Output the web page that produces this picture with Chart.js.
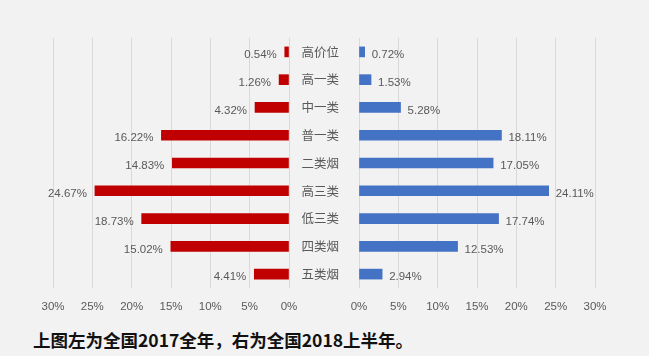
<!DOCTYPE html>
<html>
<head>
<meta charset="utf-8">
<script src="https://cdn.jsdelivr.net/npm/chart.js@4/dist/chart.umd.min.js"></script>
<style>
  html, body { margin:0; padding:0; background:#f2f2f2; }
  #wrap { position:relative; width:649px; height:356px; background:#f2f2f2; overflow:hidden; }
  #leftBox { position:absolute; left:0; top:0; width:300px; height:320px; }
  #rightBox { position:absolute; left:300px; top:0; width:349px; height:320px; }
  #caption { position:absolute; left:33px; top:329px; font-family:"Noto Sans CJK SC", sans-serif; font-size:17.5px; font-weight:700; color:#111; white-space:nowrap; line-height:22px; }
</style>
</head>
<body>
<div id="wrap">
  <div id="leftBox"><canvas id="left" width="300" height="320"></canvas></div>
  <div id="rightBox"><canvas id="right" width="349" height="320"></canvas></div>
  <div id="caption">上图左为全国2017全年，右为全国2018上半年。</div>
</div>
<script>
const categories = ["高价位","高一类","中一类","普一类","二类烟","高三类","低三类","四类烟","五类烟"];
const values2017 = [0.54, 1.26, 4.32, 16.22, 14.83, 24.67, 18.73, 15.02, 4.41];
const values2018H1 = [0.72, 1.53, 5.28, 18.11, 17.05, 24.11, 17.74, 12.53, 2.94];
const axisMax = 30;
const axisStep = 5;

const labelColor = '#595959';
const gridColor = '#d9d9d9';

const valueLabels = {
  id: 'valueLabels',
  afterDatasetsDraw(chart, args, opts) {
    const ctx = chart.ctx;
    const meta = chart.getDatasetMeta(0);
    const data = chart.data.datasets[0].data;
    ctx.save();
    ctx.font = '11.5px "Liberation Sans", Arial, sans-serif';
    ctx.fillStyle = labelColor;
    ctx.textBaseline = 'middle';
    meta.data.forEach((bar, i) => {
      const txt = data[i].toFixed(2) + '%';
      if (opts.side === 'left') {
        ctx.textAlign = 'right';
        ctx.fillText(txt, bar.x - 8, bar.y + 3);
      } else {
        ctx.textAlign = 'left';
        ctx.fillText(txt, bar.x + 7, bar.y + 3);
      }
    });
    ctx.restore();
  }
};

function xScale(reverse) {
  return {
    type: 'linear',
    min: 0, max: axisMax,
    reverse: reverse,
    ticks: {
      stepSize: axisStep,
      color: labelColor,
      padding: 12,
      font: { size: 11.5, family: '"Liberation Sans", Arial, sans-serif' },
      callback: v => v + '%'
    },
    grid: { color: gridColor, lineWidth: 1, drawTicks: false },
    border: { display: false },
    afterFit(s) { s.height = 30; s.paddingLeft = 0; s.paddingRight = 0; }
  };
}

new Chart(document.getElementById('left'), {
  type: 'bar',
  data: {
    labels: categories,
    datasets: [{ data: values2017, backgroundColor: '#c00000', barThickness: 10 }]
  },
  options: {
    indexAxis: 'y',
    responsive: false,
    animation: false,
    layout: { padding: { left: 53, right: 11, top: 38, bottom: 2 } },
    plugins: { legend: { display: false }, tooltip: { enabled: false }, valueLabels: { side: 'left' } },
    scales: {
      x: xScale(true),
      y: { display: false, position: 'right' }
    }
  },
  plugins: [valueLabels]
});

new Chart(document.getElementById('right'), {
  type: 'bar',
  data: {
    labels: categories,
    datasets: [{ data: values2018H1, backgroundColor: '#4472c4', barThickness: 10 }]
  },
  options: {
    indexAxis: 'y',
    responsive: false,
    animation: false,
    layout: { padding: { left: 0, right: 54, top: 38, bottom: 2 } },
    plugins: { legend: { display: false }, tooltip: { enabled: false }, valueLabels: { side: 'right' } },
    scales: {
      x: xScale(false),
      y: {
        position: 'left',
        ticks: {
          color: labelColor,
          padding: 20,
          font: { size: 12.5, family: '"Noto Sans CJK SC", sans-serif' }
        },
        grid: { display: false, drawTicks: false },
        border: { display: false },
        afterFit(s) { s.width = 59; }
      }
    }
  },
  plugins: [valueLabels]
});
</script>
</body>
</html>
